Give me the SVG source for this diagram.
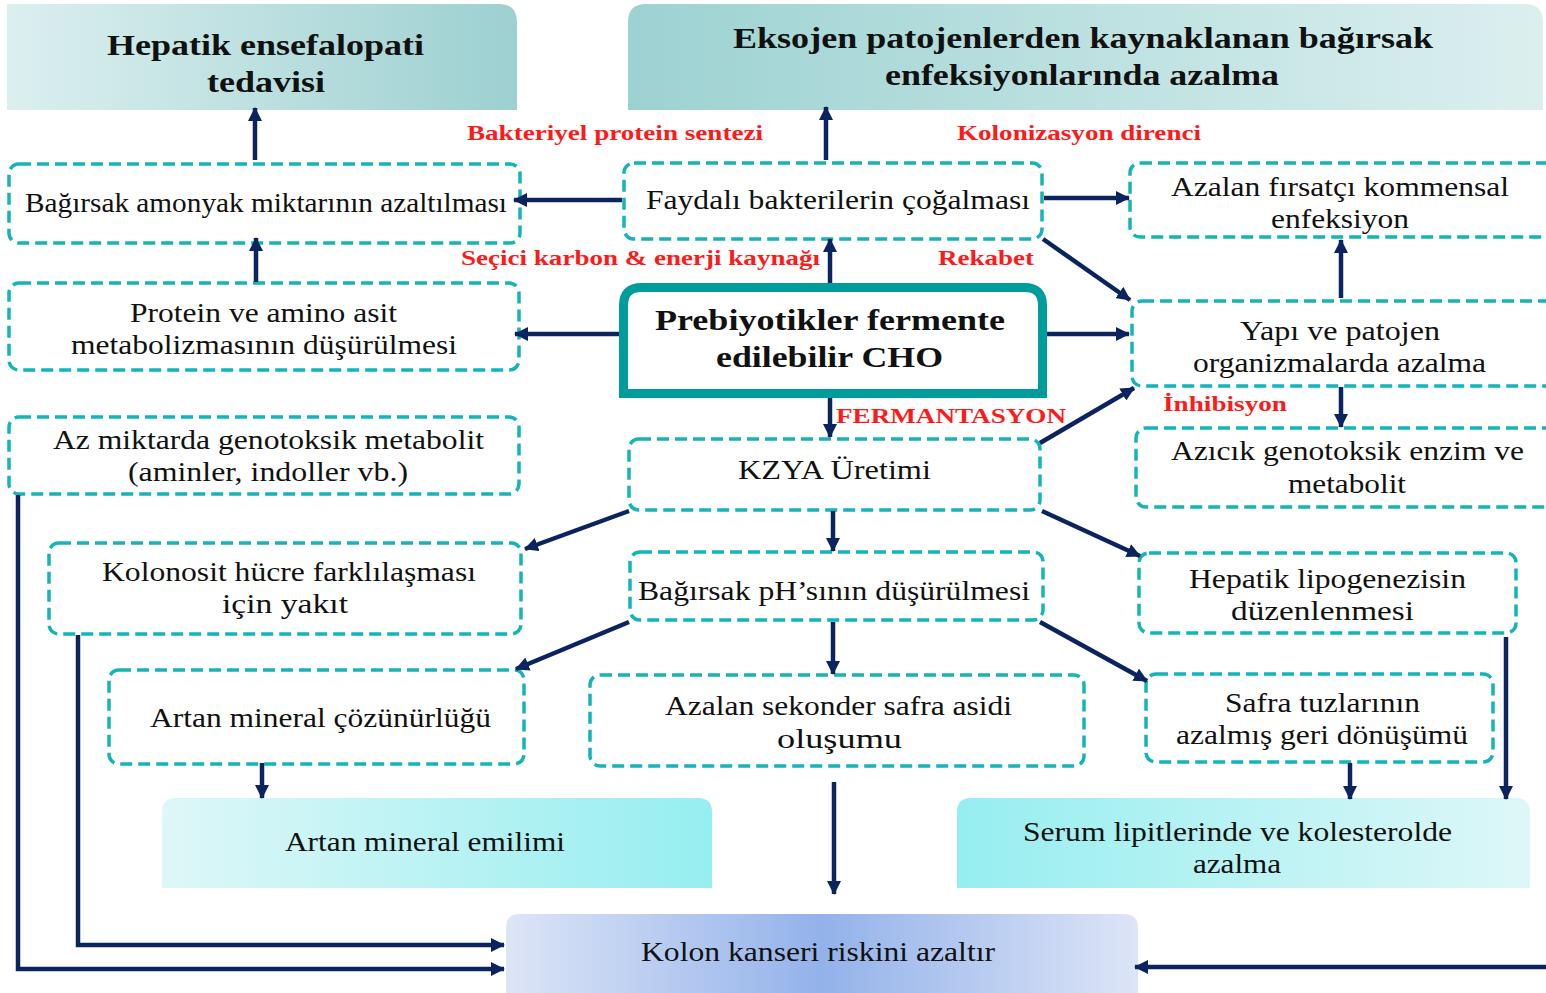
<svg xmlns="http://www.w3.org/2000/svg" width="1546" height="993" viewBox="0 0 1546 993">
<defs>
<linearGradient id="gH1" x1="0" y1="0" x2="1" y2="0"><stop offset="0" stop-color="#dcefef"/><stop offset="1" stop-color="#9dd0d1"/></linearGradient>
<linearGradient id="gH2" x1="0" y1="0" x2="1" y2="0"><stop offset="0" stop-color="#9dd2d2"/><stop offset="1" stop-color="#dcefef"/></linearGradient>
<linearGradient id="gMin" x1="0" y1="0" x2="1" y2="0"><stop offset="0" stop-color="#def7f8"/><stop offset="1" stop-color="#96eef0"/></linearGradient>
<linearGradient id="gSer" x1="0" y1="0" x2="1" y2="0"><stop offset="0" stop-color="#96eef0"/><stop offset="1" stop-color="#def7f8"/></linearGradient>
<linearGradient id="gKol" x1="0" y1="0" x2="1" y2="0"><stop offset="0" stop-color="#dde5f7"/><stop offset="0.5" stop-color="#93b2ea"/><stop offset="1" stop-color="#dde5f7"/></linearGradient>
<marker id="ah" viewBox="0 0 14 14" refX="13" refY="7" markerWidth="14" markerHeight="14" markerUnits="userSpaceOnUse" orient="auto"><path d="M0,0 L14,7 L0,14 Z" fill="#0b2460"/></marker>
</defs>
<style>
.t{font-family:"Liberation Serif","Times New Roman",serif;font-size:27px;fill:#111;text-anchor:middle}
.hb{font-family:"Liberation Serif","Times New Roman",serif;font-size:30px;font-weight:bold;fill:#111;text-anchor:middle}
.r{font-family:"Liberation Serif","Times New Roman",serif;font-size:20px;font-weight:bold;fill:#ff1a1a;text-anchor:middle}
.d{fill:#fff;stroke:#14b4b8;stroke-width:3.5;stroke-dasharray:12 6}
.c{fill:none;stroke:#0b2460;stroke-width:4.5;marker-end:url(#ah)}
</style>
<rect width="1546" height="993" fill="#fff"/>

<g id="hdr-hepatik">
<path d="M7,110 V4 H499 Q517,4 517,22 V110 Z" fill="url(#gH1)"/>
<text class="hb" x="265.5" y="55" textLength="317" lengthAdjust="spacingAndGlyphs">Hepatik ensefalopati</text>
<text class="hb" x="266" y="92" textLength="118" lengthAdjust="spacingAndGlyphs">tedavisi</text>
</g>
<g id="hdr-eksojen">
<path d="M628,110 V22 Q628,4 646,4 H1525 Q1543,4 1543,22 V110 Z" fill="url(#gH2)"/>
<text class="hb" x="1083" y="48" textLength="700" lengthAdjust="spacingAndGlyphs">Eksojen patojenlerden kaynaklanan bağırsak</text>
<text class="hb" x="1082" y="85" textLength="394" lengthAdjust="spacingAndGlyphs">enfeksiyonlarında azalma</text>
</g>

<g id="labels">
<text class="r" x="615" y="140" textLength="296" lengthAdjust="spacingAndGlyphs">Bakteriyel protein sentezi</text>
<text class="r" x="1079" y="140" textLength="244" lengthAdjust="spacingAndGlyphs">Kolonizasyon direnci</text>
<text class="r" x="640.5" y="265" textLength="359" lengthAdjust="spacingAndGlyphs">Seçici karbon &amp; enerji kaynağı</text>
<text class="r" x="986" y="265" textLength="96" lengthAdjust="spacingAndGlyphs">Rekabet</text>
<text class="r" x="1225" y="411" textLength="124" lengthAdjust="spacingAndGlyphs">İnhibisyon</text>
<text class="r" x="951" y="423" style="font-size:22px" textLength="230" lengthAdjust="spacingAndGlyphs">FERMANTASYON</text>
</g>

<g id="n-amonyak">
<rect class="d" x="9" y="164" width="511" height="79" rx="10"/>
<text class="t" x="266" y="212" textLength="482" lengthAdjust="spacingAndGlyphs">Bağırsak amonyak miktarının azaltılması</text>
</g>
<g id="n-faydali">
<rect class="d" x="624" y="163" width="418" height="76" rx="10"/>
<text class="t" x="838" y="209" textLength="384" lengthAdjust="spacingAndGlyphs">Faydalı bakterilerin çoğalması</text>
</g>
<g id="n-firsatci">
<rect class="d" x="1130" y="163" width="430" height="74" rx="10"/>
<text class="t" x="1340" y="196" textLength="338" lengthAdjust="spacingAndGlyphs">Azalan fırsatçı kommensal</text>
<text class="t" x="1340" y="228" textLength="138" lengthAdjust="spacingAndGlyphs">enfeksiyon</text>
</g>
<g id="n-protein">
<rect class="d" x="9" y="283" width="510" height="87" rx="10"/>
<text class="t" x="263.5" y="322" textLength="267" lengthAdjust="spacingAndGlyphs">Protein ve amino asit</text>
<text class="t" x="264" y="354" textLength="386" lengthAdjust="spacingAndGlyphs">metabolizmasının düşürülmesi</text>
</g>
<g id="n-prebiyotik">
<path d="M623.5,393.5 V305.5 Q623.5,287.5 641.5,287.5 H1024.5 Q1042.5,287.5 1042.5,305.5 V393.5 Z" fill="#fff" stroke="#009b9b" stroke-width="9"/>
<text class="hb" x="830" y="330" textLength="350" lengthAdjust="spacingAndGlyphs">Prebiyotikler fermente</text>
<text class="hb" x="829.5" y="367" textLength="227" lengthAdjust="spacingAndGlyphs">edilebilir CHO</text>
</g>
<g id="n-yapi">
<rect class="d" x="1132" y="301" width="430" height="85" rx="10"/>
<text class="t" x="1340" y="340" textLength="200" lengthAdjust="spacingAndGlyphs">Yapı ve patojen</text>
<text class="t" x="1339.5" y="372" textLength="293" lengthAdjust="spacingAndGlyphs">organizmalarda azalma</text>
</g>
<g id="n-genotoksik">
<rect class="d" x="9" y="417" width="510" height="77" rx="10"/>
<text class="t" x="268.5" y="449" textLength="431" lengthAdjust="spacingAndGlyphs">Az miktarda genotoksik metabolit</text>
<text class="t" x="268" y="481" textLength="280" lengthAdjust="spacingAndGlyphs">(aminler, indoller vb.)</text>
</g>
<g id="n-kzya">
<rect class="d" x="629" y="439" width="411" height="71" rx="10"/>
<text class="t" x="834.5" y="479" textLength="193" lengthAdjust="spacingAndGlyphs">KZYA Üretimi</text>
</g>
<g id="n-azicik">
<rect class="d" x="1136" y="428" width="426" height="79" rx="10"/>
<text class="t" x="1347.5" y="460" textLength="353" lengthAdjust="spacingAndGlyphs">Azıcık genotoksik enzim ve</text>
<text class="t" x="1347" y="493" textLength="118" lengthAdjust="spacingAndGlyphs">metabolit</text>
</g>
<g id="n-kolonosit">
<rect class="d" x="49" y="543" width="472" height="91" rx="10"/>
<text class="t" x="289" y="581" textLength="374" lengthAdjust="spacingAndGlyphs">Kolonosit hücre farklılaşması</text>
<text class="t" x="285" y="613" textLength="126" lengthAdjust="spacingAndGlyphs">için yakıt</text>
</g>
<g id="n-ph">
<rect class="d" x="630" y="552" width="413" height="68" rx="10"/>
<text class="t" x="834" y="600" textLength="392" lengthAdjust="spacingAndGlyphs">Bağırsak pH’sının düşürülmesi</text>
</g>
<g id="n-lipogenez">
<rect class="d" x="1139" y="553" width="377" height="80" rx="10"/>
<text class="t" x="1327.5" y="588" textLength="277" lengthAdjust="spacingAndGlyphs">Hepatik lipogenezisin</text>
<text class="t" x="1322.5" y="620" textLength="183" lengthAdjust="spacingAndGlyphs">düzenlenmesi</text>
</g>
<g id="n-cozunurluk">
<rect class="d" x="109" y="670" width="415" height="94" rx="10"/>
<text class="t" x="320.5" y="727" textLength="341" lengthAdjust="spacingAndGlyphs">Artan mineral çözünürlüğü</text>
</g>
<g id="n-safraasidi">
<rect class="d" x="590" y="675" width="494" height="91" rx="10"/>
<text class="t" x="838.5" y="715" textLength="347" lengthAdjust="spacingAndGlyphs">Azalan sekonder safra asidi</text>
<text class="t" x="839.5" y="748" textLength="125" lengthAdjust="spacingAndGlyphs">oluşumu</text>
</g>
<g id="n-safratuz">
<rect class="d" x="1146" y="674" width="347" height="88" rx="10"/>
<text class="t" x="1322.5" y="712" textLength="195" lengthAdjust="spacingAndGlyphs">Safra tuzlarının</text>
<text class="t" x="1322" y="744" textLength="292" lengthAdjust="spacingAndGlyphs">azalmış geri dönüşümü</text>
</g>
<g id="n-emilim">
<path d="M162,888 V812 Q162,798 176,798 H698 Q712,798 712,812 V888 Z" fill="url(#gMin)"/>
<text class="t" x="425" y="851" textLength="280" lengthAdjust="spacingAndGlyphs">Artan mineral emilimi</text>
</g>
<g id="n-serum">
<path d="M957,888 V812 Q957,798 971,798 H1516 Q1530,798 1530,812 V888 Z" fill="url(#gSer)"/>
<text class="t" x="1237.5" y="841" textLength="429" lengthAdjust="spacingAndGlyphs">Serum lipitlerinde ve kolesterolde</text>
<text class="t" x="1237" y="873" textLength="88" lengthAdjust="spacingAndGlyphs">azalma</text>
</g>
<g id="n-kolon">
<path d="M506,993 V928 Q506,914 520,914 H1124 Q1138,914 1138,928 V993 Z" fill="url(#gKol)"/>
<text class="t" x="818" y="961" textLength="354" lengthAdjust="spacingAndGlyphs">Kolon kanseri riskini azaltır</text>
</g>

<g id="connectors">
<line class="c" x1="255" y1="160" x2="255" y2="108"/>
<line class="c" x1="256" y1="282" x2="256" y2="238"/>
<line class="c" x1="622" y1="200" x2="514" y2="200"/>
<line class="c" x1="826" y1="160" x2="826" y2="107"/>
<line class="c" x1="1044" y1="198" x2="1129" y2="198"/>
<line class="c" x1="1043" y1="239" x2="1130" y2="300"/>
<line class="c" x1="830" y1="283" x2="830" y2="239"/>
<line class="c" x1="619" y1="334" x2="515" y2="334"/>
<line class="c" x1="1047" y1="334" x2="1129" y2="334"/>
<line class="c" x1="830" y1="398" x2="830" y2="437"/>
<line class="c" x1="1341" y1="298" x2="1341" y2="240"/>
<line class="c" x1="1341" y1="387" x2="1341" y2="427"/>
<line class="c" x1="1040" y1="443" x2="1134" y2="388"/>
<line class="c" x1="629" y1="511" x2="525" y2="549"/>
<line class="c" x1="833" y1="511" x2="833" y2="551"/>
<line class="c" x1="1042" y1="511" x2="1140" y2="556"/>
<line class="c" x1="629" y1="622" x2="516" y2="669"/>
<line class="c" x1="833" y1="622" x2="833" y2="674"/>
<line class="c" x1="1040" y1="622" x2="1147" y2="681"/>
<line class="c" x1="262" y1="763" x2="262" y2="798"/>
<line class="c" x1="834" y1="782" x2="834" y2="894"/>
<line class="c" x1="1350" y1="763" x2="1350" y2="799"/>
<line class="c" x1="1506" y1="637" x2="1506" y2="799"/>
<polyline class="c" points="18,495 18,969 504,969"/>
<polyline class="c" points="78,635 78,945 504,945"/>
<line class="c" x1="1546" y1="967" x2="1135" y2="967"/>
</g>
</svg>
